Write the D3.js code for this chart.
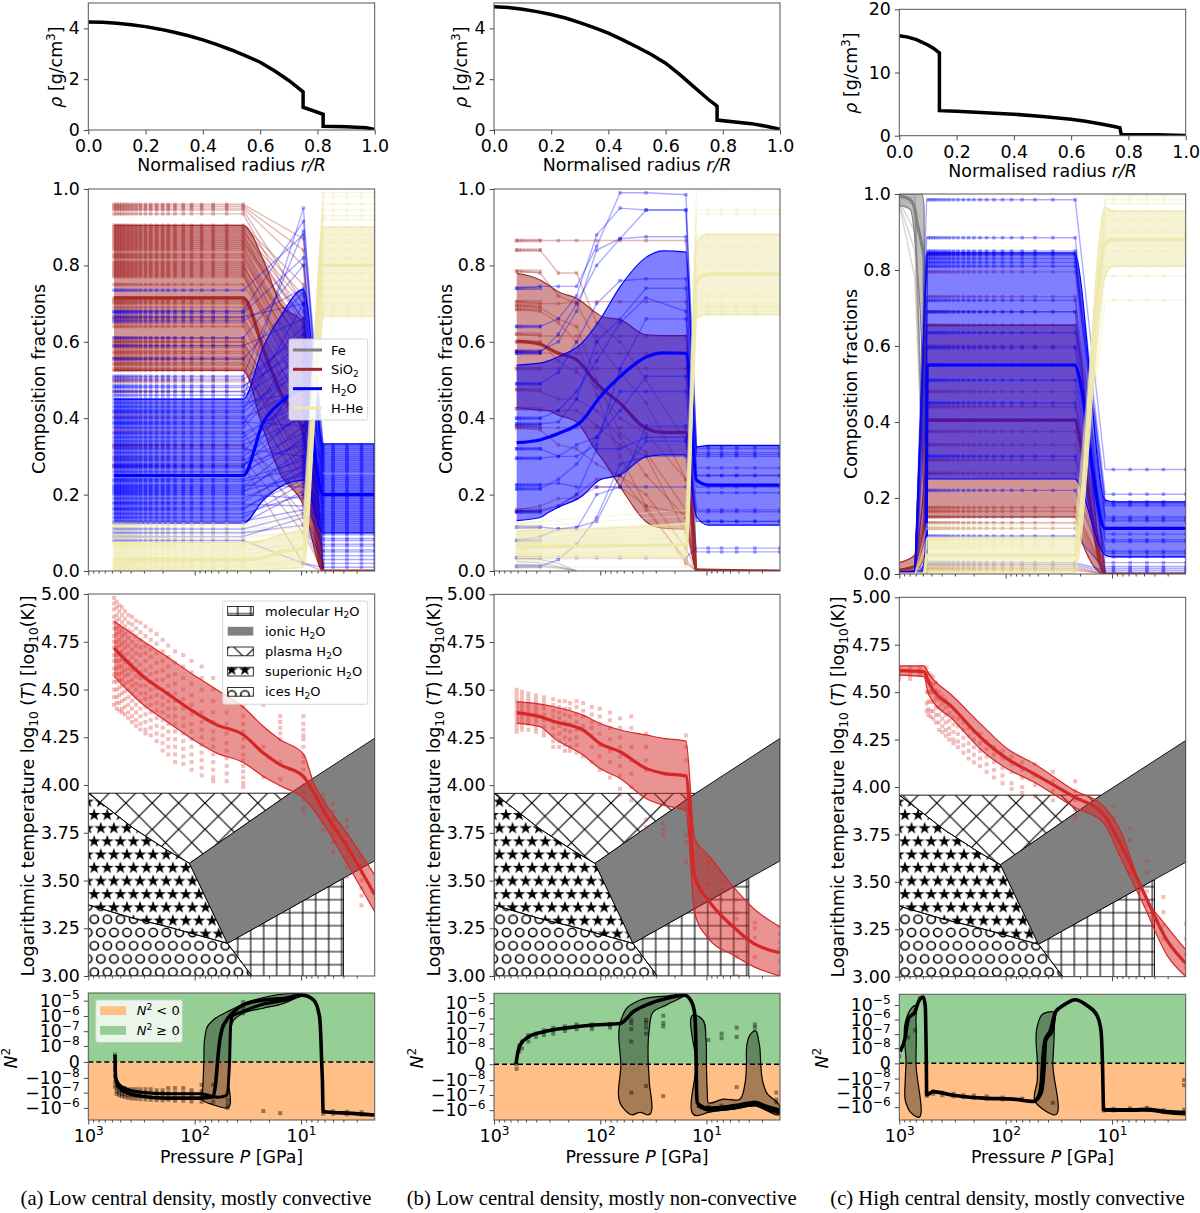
<!DOCTYPE html>
<html>
<head>
<meta charset="utf-8">
<script src="https://cdn.jsdelivr.net/npm/d3@7"></script>
<style>
    body { margin: 0; background: #fff; }
    text { font-family: "DejaVu Sans", sans-serif; fill: #000; }
</style>
</head>
<body>
<svg id="chart" width="1200" height="1213"></svg>
<script>
// ---- density profiles (row 1) ----
var rhoRadiusA = [0, .05, .1, .15, .2, .25, .3, .35, .4, .45, .5, .55, .6, .65, .7, .75, .75, .82, .82, .9, .97, 1];
var rhoValueA = [4.25, 4.24, 4.2, 4.14, 4.07, 3.97, 3.85, 3.71, 3.55, 3.36, 3.15, 2.92, 2.67, 2.33, 1.95, 1.5, .9, .62, .15, .13, .09, .02];
var rhoRadiusB = [0, .05, .1, .15, .2, .25, .3, .35, .4, .45, .5, .55, .6, .65, .7, .75, .78, .78, .9, .96, 1];
var rhoValueB = [4.85, 4.82, 4.75, 4.66, 4.55, 4.41, 4.23, 4.03, 3.81, 3.55, 3.27, 2.97, 2.63, 2.18, 1.69, 1.2, .94, .39, .25, .13, .03];
var rhoRadiusC = [0, .03, .06, .1, .12, .14, .14, .2, .3, .4, .5, .6, .65, .7, .75, .77, .775, .9, 1];
var rhoValueC = [15.8, 15.6, 15.2, 14.35, 13.8, 13.1, 3.96, 3.85, 3.65, 3.4, 3.05, 2.6, 2.3, 1.9, 1.45, 1.27, .2, .15, .05];

// ---- composition, column a ----
var colsPlateauA = [573, 541, 511, 482, 452, 420, 388, 356, 324, 290, 259, 228, 200, 177, 153, 128, 107, 86, 67, 50, 35];
var colsRightA = [6.2, 5, 3.7, 2.7, 2.03];
var lineNodesA = [573, 35, 9.5, 6.2, 2.03];
var siLevelA = [.96, .955, .95, .945, .935, .905, .895, .885, .88, .87, .86, .85, .84, .83, .81, .805, .795, .785, .775, .75, .715, .71, .70, .68, .665, .66, .65, .61, .60, .585, .575, .555, .53, .525, .505, .495, .47, .405, .365, .33, .325, .295, .275, .90, .89, .875, .865, .855, .845, .825, .82, .80, .79, .78, .77, .705, .69, .64, .60, .59, .57, .56, .545, .54];
var siEndA = [.87, .84, .80, .70, .65, .75, .64, .68, .60, .62, .66, .58, .55, .52, .60, .50, .56, .48, .45, .52, .42, .47, .40, .44, .38, .36, .34, .42, .33, .30, .32, .28, .26, .30, .24, .20, .22, .18, .12, .20, .15, .10, .02, .72, .70, .66, .61, .63, .57, .59, .54, .53, .49, .46, .51, .43, .39, .35, .31, .37, .29, .27, .25, .23];
var h2oLevelA = [.735, .68, .675, .665, .655, .61, .59, .555, .51, .50, .485, .48, .47, .46, .45, .43, .42, .40, .375, .36, .35, .33, .31, .29, .275, .26, .25, .215, .205, .19, .18, .165, .15, .14, .125, .11, .10, .09, .08, .44, .415, .39, .385, .34, .32, .30, .28, .27, .24, .235, .225, .22, .21, .2, .175, .16, .13];
var h2oEndA = [.88, .915, .82, .70, .74, .80, .66, .73, .89, .62, .58, .64, .60, .56, .95, .52, .70, .48, .55, .44, .46, .40, .50, .36, .42, .34, .38, .30, .32, .26, .28, .24, .20, .23, .21, .15, .12, .14, .02, .47, .55, .38, .60, .43, .30, .41, .33, .52, .29, .27, .22, .35, .25, .19, .17, .26, .16];
var h2oRightA = [.33, .325, .32, .31, .30, .295, .29, .28, .27, .26, .25, .24, .23, .22, .21, .20, .195, .19, .18, .17, .16, .15, .14, .13, .125, .12, .11, .10, .095, .085, .08, .07, .065, .055, .05, .04, .03, .02, .01, .315, .305, .285, .275, .265, .245, .235, .225, .215, .205, .185, .175, .165, .155, .145, .135, .115, .105];
var hheLevelA = [.125, .12, .115, .105, .095, .09, .085, .075, .07, .065, .055, .045, .035, .03, .025, .02, .015, .01, .005, .002];
var hheEndA = [.15, .14, .11, .13, .12, .10, .105, .09, .08, .11, .07, .06, .09, .05, .04, .06, .03, .02, .03, .01];
var hheRightA = [.99, .98, .96, .945, .93, .92, .90, .88, .86, .84, .82, .80, .78, .76, .74, .72, .70, .69, .68, .665];
var bandPA = [573, 35, 22.6, 15.7, 9.5, 6.2, 2.03];
var siHiA = [.905, .905, .814, .70, .648, 0, 0];
var siMedA = [.715, .715, .58, .47, .36, 0, 0];
var siLoA = [.525, .525, .37, .255, .172, 0, 0];
var h2oHiA = [.45, .45, .588, .665, .737, .333, .333];
var h2oMedA = [.25, .25, .39, .44, .474, .2, .2];
var h2oLoA = [.125, .125, .186, .22, .238, .1, .1];
var hheHiA = [.075, .075, .08, .095, .107, .90, .90];
var hheMedA = [.03, .03, .035, .05, .06, .80, .80];
var hheLoA = [0, 0, 0, .005, .01, .668, .668];

// ---- composition, column b ----
var colsPlateauB = [612, 578, 546, 511, 475, 439, 403, 369];
var colsRightB = [9.6, 7.2, 5.2, 3.5, 2.04];
var lineNodesB = [612, 369, 248, 167, 108, 65, 37, 15.6];
var siLinesB = [
    [.865, .865, .865, .865, .865, .865, .865, .865],
    [.84, .84, .78, .78, .65, .60, .50, .34],
    [.785, .78, .72, .70, .60, .52, .44, .24],
    [.705, .70, .70, .705, .705, .705, .705, .705],
    [.695, .69, .66, .64, .50, .36, .31, .16],
    [.685, .68, .65, .60, .46, .30, .17, .15],
    [.62, .615, .615, .615, .615, .615, .615, .615],
    [.60, .60, .55, .52, .48, .40, .36, .24],
    [.575, .57, .57, .57, .57, .57, .57, .57],
    [.53, .53, .53, .53, .53, .53, .53, .53],
    [.475, .47, .45, .45, .42, .35, .25, .14],
    [.425, .42, .42, .42, .38, .33, .30, .10],
    [.38, .375, .375, .375, .375, .375, .375, .375],
    [.375, .37, .33, .32, .28, .25, .20, .06],
    [.16, .17, .19, .19, .22, .22, .17, .02],
    [.155, .16, .17, .20, .24, .25, .16, .03]
];
var h2oLinesB = [
    [.74, .745, .745, .745, .85, .99, .99, .985],
    [.64, .64, .66, .72, .88, .95, .945, .945],
    [.575, .575, .60, .68, .84, .87, .945, .945],
    [.57, .57, .62, .70, .80, .87, .875, .875],
    [.49, .49, .52, .60, .70, .76, .765, .765],
    [.40, .40, .42, .47, .55, .65, .715, .68],
    [.385, .385, .39, .45, .60, .66, .74, .74],
    [.32, .32, .30, .30, .33, .53, .66, .66],
    [.295, .295, .30, .33, .35, .42, .51, .51],
    [.225, .225, .23, .22, .22, .22, .22, .22],
    [.215, .215, .24, .28, .35, .47, .47, .47],
    [.155, .155, .17, .20, .32, .32, .35, .35],
    [.115, .115, .11, .115, .13, .25, .34, .34],
    [.08, .09, .11, .11, .20, .22, .38, .38],
    [.035, .035, .035, .035, .035, .035, .035, .035],
    [.012, .012, .03, .07, .14, .28, .30, .30]
];
var h2oRightB = [.325, .32, .31, .305, .30, .27, .25, .25, .22, .205, .16, .155, .13, .13, .06, .05];
var hheLevelB = [.125, .115, .105, .095, .085, .075, .07, .065, .055, .045, .04, .03, .012];
var hheEndB = [.16, .145, .125, .12, .11, .10, .09, .085, .075, .05, .04, .03, .01];
var hheRightB = [1, .945, .935, .88, .85, .80, .775, .72, .70, .695, .69, .68, .67];
var feLinesB = [[.035, .03, .02, 0], [.025, .022, .012, 0], [.018, .015, .01, 0], [.012, .011, .008, 0]];
var feNodesB = [612, 369, 248, 167];
var siBandPB = [612, 369, 308, 248, 167, 108, 94, 65, 37, 25.5, 15.6, 12.4, 2.04];
var siHiB = [.779, .762, .749, .731, .714, .675, .665, .658, .618, .616, .616, 0, 0];
var siMedB = [.602, .594, .583, .57, .553, .491, .475, .439, .373, .363, .363, .003, 0];
var siLoB = [.428, .421, .42, .408, .39, .312, .29, .221, .129, .112, .109, 0, 0];
var h2oBandPB = [612, 369, 308, 248, 150, 101, 65, 37, 25.5, 15.6, 12.4, 9.6, 2.04];
var h2oHiB = [.539, .544, .55, .561, .596, .657, .744, .821, .838, .835, .325, .329, .329];
var h2oMedB = [.336, .343, .35, .36, .392, .455, .509, .56, .571, .57, .238, .225, .225];
var h2oLoB = [.132, .14, .153, .167, .195, .238, .251, .299, .304, .304, .142, .12, .12];
var hheBandPB = [612, 15.6, 12.4, 9.6, 2.04];
var hheHiB = [.105, .125, .862, .882, .882];
var hheMedB = [.064, .068, .757, .777, .777];
var hheLoB = [.035, .035, .661, .672, .672];

// ---- composition, column c ----
var colsPlateauC = [533, 507, 479, 452, 424, 394, 366, 339, 310, 281, 250, 223, 199, 174, 151, 129, 107, 88, 70, 53, 36, 22.2];
var colsRightC = [9.7, 6.76, 4.7, 3.29, 2.02];
var lineNodesC = [1000, 713, 553, 22.2, 11.6, 2.02];
var feStartC = [1, .995, .99, .985, .98, .975, .97];
var feMidC = [1, .99, .97, .95, .9, .85, .78];
var feNodesC = [1000, 713, 553];
var siLevelC = [.84, .795, .73, .69, .655, .60, .48, .44, .405, .375, .34, .30, .265, .175, .165, .15, .135, .12, .02, .015, .01];
var h2oLevelC = [.985, .885, .85, .845, .84, .83, .82, .81, .72, .69, .635, .595, .55, .51, .45, .31, .22, .10, .03, .025];
var h2oRightC = [.275, .21, .19, .185, .18, .15, .145, .14, .12, .105, .09, .085, .06, .055, .045, .03, .02, .015, .01, .005];
var hheLevelC = [.13, .12, .095, .09, .08, .07, .05, .03, .02, .01, .005];
var hheRightC = [.995, .985, .975, .955, .93, .90, .88, .85, .81, .785, .72];
var feBandPC = [1000, 794, 713, 687, 617, 586, 553];
var feHiC = [1, 1, 1, 1, 1, .97, 0];
var feMedC = [.995, .985, .96, .93, .87, .83, 0];
var feLoC = [.97, .96, .88, .82, .6, .3, 0];
var siBandPC = [1000, 713, 640, 574, 553, 22.2, 20, 11.6, 2.02];
var siHiC = [.03, .05, .12, .3, .655, .655, .58, 0, 0];
var siMedC = [.01, .02, .05, .15, .405, .405, .35, 0, 0];
var siLoC = [.005, .01, .02, .05, .15, .15, .1, 0, 0];
var h2oBandPC = [1000, 640, 586, 561, 546, 22.7, 11.6, 9.7, 2.02];
var h2oHiC = [.005, .01, .03, .10, .845, .845, .195, .19, .19];
var h2oMedC = [.003, .005, .015, .05, .55, .55, .12, .12, .12];
var h2oLoC = [0, 0, .005, .02, .25, .25, .05, .045, .045];
var hheBandPC = [1000, 586, 546, 22.7, 11.6, 9.7, 2.02];
var hheHiC = [0, 0, .095, .095, .965, .955, .955];
var hheMedC = [0, 0, .05, .05, .87, .88, .88];
var hheLoC = [0, 0, 0, 0, .785, .81, .81];

// ---- temperature bands (row 3) ----
var tempPA = [573, 304, 183, 103, 62, 35, 22.6, 15.7, 9.5, 7.6, 6.2, 3.7, 2.03];
var tempHiA = [4.857, 4.752, 4.673, 4.577, 4.499, 4.408, 4.306, 4.237, 4.163, 4.01, 3.922, 3.747, 3.529];
var tempMedA = [4.717, 4.568, 4.481, 4.385, 4.315, 4.263, 4.167, 4.106, 4.045, 3.96, 3.87, 3.678, 3.425];
var tempLoA = [4.569, 4.42, 4.333, 4.237, 4.167, 4.118, 4.045, 3.996, 3.931, 3.87, 3.8, 3.59, 3.337];
var tempPB = [612, 369, 271, 145, 101, 65, 37, 25.5, 15.6, 12.9, 9.6, 5.6, 3.6, 2.04];
var tempHiB = [4.438, 4.425, 4.411, 4.367, 4.324, 4.289, 4.263, 4.245, 4.231, 3.72, 3.634, 3.468, 3.354, 3.258];
var tempMedB = [4.38, 4.359, 4.333, 4.289, 4.219, 4.175, 4.088, 4.062, 4.048, 3.52, 3.398, 3.258, 3.171, 3.122];
var tempLoB = [4.324, 4.307, 4.245, 4.158, 4.088, 4.035, 3.93, 3.895, 3.866, 3.328, 3.197, 3.11, 3.049, 3];
var tempPC = [1000, 586, 533, 310, 162, 98, 55, 23, 11.9, 8.4, 5.07, 3.05, 2.02];
var tempHiC = [4.638, 4.638, 4.6, 4.476, 4.318, 4.204, 4.125, 3.984, 3.896, 3.773, 3.44, 3.264, 3.141];
var tempMedC = [4.613, 4.608, 4.555, 4.415, 4.248, 4.151, 4.072, 3.949, 3.852, 3.703, 3.448, 3.193, 3.07];
var tempLoC = [4.59, 4.582, 4.49, 4.353, 4.186, 4.098, 4.028, 3.896, 3.808, 3.633, 3.38, 3.114, 3];

// ---- temperature scatter, one value list per pressure column ----
var tempColPA = [573, 541, 511, 482, 452, 420, 388, 356, 324, 290, 259, 228, 200, 177, 153, 128, 107, 86, 67, 50, 35, 22.6, 15.7, 9.5, 6.2, 5, 3.7, 2.7];
var tempColTA = [
    [4.98, 4.95, 4.92, 4.88, 4.85, 4.82, 4.78, 4.75, 4.72, 4.68, 4.65, 4.61, 4.58, 4.54, 4.5, 4.46, 4.42],
    [4.96, 4.93, 4.89, 4.86, 4.82, 4.79, 4.75, 4.72, 4.68, 4.65, 4.61, 4.58, 4.54, 4.5, 4.46, 4.43, 4.4],
    [4.94, 4.91, 4.87, 4.83, 4.8, 4.76, 4.73, 4.69, 4.65, 4.62, 4.58, 4.55, 4.51, 4.47, 4.43, 4.39],
    [4.93, 4.89, 4.85, 4.81, 4.78, 4.74, 4.7, 4.66, 4.62, 4.59, 4.55, 4.52, 4.48, 4.44, 4.4, 4.38],
    [4.91, 4.87, 4.83, 4.79, 4.75, 4.72, 4.68, 4.64, 4.6, 4.57, 4.53, 4.49, 4.45, 4.41, 4.37],
    [4.89, 4.85, 4.81, 4.77, 4.73, 4.69, 4.65, 4.61, 4.58, 4.54, 4.5, 4.46, 4.42, 4.38, 4.35],
    [4.88, 4.84, 4.8, 4.75, 4.71, 4.67, 4.63, 4.6, 4.55, 4.52, 4.48, 4.44, 4.4, 4.36, 4.33],
    [4.86, 4.82, 4.78, 4.73, 4.69, 4.65, 4.61, 4.57, 4.53, 4.5, 4.46, 4.42, 4.38, 4.34, 4.31],
    [4.85, 4.8, 4.76, 4.72, 4.68, 4.63, 4.59, 4.56, 4.52, 4.48, 4.44, 4.4, 4.36, 4.32, 4.29],
    [4.83, 4.78, 4.73, 4.69, 4.65, 4.6, 4.56, 4.52, 4.48, 4.45, 4.41, 4.37, 4.33, 4.29, 4.27],
    [4.81, 4.76, 4.71, 4.67, 4.62, 4.58, 4.54, 4.5, 4.46, 4.42, 4.38, 4.34, 4.3, 4.26],
    [4.79, 4.74, 4.69, 4.64, 4.59, 4.55, 4.51, 4.47, 4.43, 4.39, 4.35, 4.31, 4.27, 4.23],
    [4.76, 4.7, 4.65, 4.6, 4.55, 4.5, 4.46, 4.42, 4.38, 4.34, 4.3, 4.26, 4.22, 4.18],
    [4.73, 4.67, 4.62, 4.57, 4.52, 4.48, 4.44, 4.4, 4.36, 4.32, 4.28, 4.24, 4.2, 4.16],
    [4.7, 4.64, 4.58, 4.53, 4.48, 4.44, 4.4, 4.36, 4.32, 4.28, 4.24, 4.2, 4.16, 4.12],
    [4.68, 4.62, 4.56, 4.5, 4.45, 4.4, 4.35, 4.31, 4.27, 4.23, 4.19, 4.15, 4.11],
    [4.65, 4.59, 4.53, 4.47, 4.42, 4.37, 4.32, 4.28, 4.24, 4.2, 4.16, 4.12, 4.08],
    [4.62, 4.56, 4.5, 4.44, 4.38, 4.33, 4.29, 4.25, 4.21, 4.17, 4.13, 4.09, 4.05],
    [4.56, 4.5, 4.44, 4.38, 4.33, 4.28, 4.24, 4.2, 4.16, 4.12, 4.08, 4.04, 4.02],
    [4.5, 4.44, 4.38, 4.32, 4.27, 4.22, 4.18, 4.14, 4.1, 4.06, 4.02],
    [4.47, 4.41, 4.36, 4.32, 4.28, 4.24, 4.2, 4.16, 4.13, 4.1, 4.07, 4.04, 4.01, 3.99],
    [4.42, 4.2, 4.04],
    [4.36, 4.33, 4.3, 4.27, 4.24, 4.12, 4.03],
    [4.36, 4.32, 4.29, 4.26, 4.24, 4.2, 4.15, 4.12, 4.08, 4.04, 4, 3.96, 3.92, 3.88, 3.86],
    [3.95, 3.92, 3.88, 3.84, 3.8, 3.76],
    [3.9, 3.86, 3.82, 3.78, 3.74, 3.7, 3.65],
    [3.82, 3.78, 3.74, 3.7, 3.66, 3.62, 3.57, 3.52],
    [3.62, 3.58, 3.54, 3.5, 3.46, 3.42, 3.37]
];
var tempColPB = [612, 546, 475, 403, 339, 277, 243, 215, 193, 167, 145, 120, 101, 81, 65, 51, 37, 25.5, 15.6, 9.6, 7.2, 5.2, 3.5, 2.04];
var tempColTB = [
    [4.5, 4.48, 4.46, 4.44, 4.42, 4.4, 4.38, 4.36, 4.34, 4.32, 4.3, 4.28],
    [4.49, 4.47, 4.45, 4.43, 4.41, 4.39, 4.37, 4.35, 4.33, 4.31, 4.29],
    [4.48, 4.46, 4.44, 4.42, 4.4, 4.38, 4.36, 4.34, 4.32, 4.29],
    [4.47, 4.45, 4.43, 4.41, 4.39, 4.37, 4.35, 4.33, 4.3, 4.28],
    [4.46, 4.44, 4.42, 4.4, 4.37, 4.34, 4.31, 4.28, 4.26],
    [4.45, 4.42, 4.39, 4.36, 4.33, 4.3, 4.26, 4.23, 4.2],
    [4.44, 4.41, 4.38, 4.35, 4.31, 4.27, 4.23, 4.2],
    [4.44, 4.4, 4.37, 4.33, 4.29, 4.25, 4.21, 4.18],
    [4.43, 4.4, 4.36, 4.32, 4.28, 4.24, 4.2, 4.18],
    [4.44, 4.41, 4.37, 4.33, 4.29, 4.25, 4.21, 4.17],
    [4.43, 4.39, 4.36, 4.31, 4.15],
    [4.41, 4.37, 4.33, 4.3, 4.26, 4.2, 4.12],
    [4.4, 4.36, 4.32, 4.27, 4.21, 4.15, 4.08],
    [4.38, 4.34, 4.3, 4.24, 4.18, 4.12, 4.04],
    [4.35, 4.3, 4.25, 4.2, 4.15, 4.1, 4.05, 3.98, 3.95],
    [4.36, 4.3, 4.2, 4.13, 4.06, 3.99, 3.92],
    [4.27, 4.2, 4.13, 4.08, 3.82, 3.78],
    [3.8, 3.77, 3.74],
    [4.26, 4.2, 4.13, 4.05, 3.94, 3.88, 3.74, 3.7, 3.6],
    [3.6, 3.56, 3.48, 3.4, 3.2],
    [3.5, 3.45, 3.4],
    [3.4, 3.33, 3.3, 3.1, 3.0],
    [3.28, 3.25, 3.2, 3.1],
    [3.26, 3.22, 3.18, 3.14, 3.08, 3.02]
];
var tempColPC = [1000, 794, 640, 553, 533, 507, 479, 452, 424, 394, 366, 339, 310, 281, 250, 223, 199, 174, 151, 129, 107, 88, 70, 53, 36, 22.2, 9.7, 6.76, 4.7, 3.29, 2.02];
var tempColTC = [
    [4.63, 4.61, 4.59, 4.57], [4.63, 4.61, 4.59, 4.57], [4.63, 4.61, 4.59], [4.63, 4.6, 4.5, 4.44, 4.4],
    [4.6, 4.56, 4.5, 4.45, 4.41, 4.38], [4.59, 4.55, 4.5, 4.45, 4.4, 4.37], [4.58, 4.54, 4.5, 4.45, 4.4, 4.36],
    [4.55, 4.51, 4.47, 4.42, 4.38, 4.34], [4.5, 4.46, 4.42, 4.38, 4.34, 4.3], [4.48, 4.44, 4.4, 4.36, 4.32, 4.29],
    [4.46, 4.42, 4.38, 4.34, 4.3, 4.27], [4.43, 4.39, 4.35, 4.31, 4.28, 4.25], [4.41, 4.37, 4.33, 4.29, 4.25, 4.23],
    [4.36, 4.32, 4.28, 4.24, 4.21], [4.34, 4.3, 4.26, 4.22, 4.18], [4.31, 4.27, 4.23, 4.19, 4.15],
    [4.29, 4.25, 4.21, 4.17, 4.13], [4.28, 4.23, 4.19, 4.15, 4.11], [4.24, 4.2, 4.16, 4.12, 4.08],
    [4.21, 4.17, 4.13, 4.09, 4.05], [4.19, 4.15, 4.1, 4.06, 4.02], [4.16, 4.12, 4.08, 4.02, 3.99],
    [4.13, 4.09, 4.05, 4.0, 3.97], [4.12, 4.06, 4.01, 3.95], [4.08, 4.03, 3.98, 3.93],
    [4.03, 3.98, 3.93, 3.88, 3.84], [3.9, 3.84, 3.78], [3.78, 3.72, 3.55], [3.61, 3.55, 3.45, 3.38],
    [3.42, 3.34, 3.27, 3.2], [3.28, 3.2, 3.12, 3.05]
];

// ---- water phase regions, [pressure GPa, log10 T] ----
var phasePlasma = [[1000, 3.957], [12.65, 3.957], [112, 3.59], [183, 3.66], [377, 3.774], [625, 3.87]];
var phaseSuperionic = [[1000, 3.957], [625, 3.87], [377, 3.774], [183, 3.66], [112, 3.59], [49.2, 3.171], [183, 3.259], [377, 3.302], [1000, 3.372]];
var phaseIces = [[1000, 3.372], [377, 3.302], [183, 3.259], [49.2, 3.171], [29, 3], [1000, 3]];
var phaseMolecular = [[49.2, 3.171], [3.99, 3.512], [3.99, 3], [29, 3]];
var phaseIonic = [[112, 3.59], [12.65, 3.957], [2.03, 4.245], [2.03, 3.603], [3.99, 3.512], [49.2, 3.171]];

// ---- buoyancy frequency, medians ----
var nsqPA = [561, 555, 521, 435, 304, 183, 89, 67, 63, 61, 58.5, 55.6, 50, 43, 35, 22.6, 14.6, 9.8, 7.6, 6.7, 6.5, 6.4, 6.3, 6.2, 5, 3.7, 2.03];
var nsqMedA = [1.9e-9, -8e-9, -3.9e-8, -1e-7, -1.8e-7, -2.3e-7, -2.3e-7, -1.8e-7, -1.4e-8, 0, 1.6e-8, 1.2e-7, 5.4e-7, 1.9e-6, 5.2e-6, 1.1e-5, 1.4e-5, 2.3e-5, 1.1e-5, 9e-7, 2.6e-8, 0, -1.4e-8, -1.7e-6, -2e-6, -2.2e-6, -2.9e-6];
var nsqExtraPA = [555, 521, 435, 304, 183, 89, 60, 50, 47, 46, 44, 35, 22.6, 14.6, 9.8];
var nsqExtraVA = [-1e-8, -2.5e-8, -6e-8, -1e-7, -1.2e-7, -1.2e-7, -2e-7, -1.5e-7, 0, 2e-7, 1e-6, 2e-6, 6e-6, 1e-5, 2.3e-5];
var nsqPB = [621, 603, 569, 475, 344, 207, 125, 65, 49, 34, 24, 16, 13.8, 12.9, 12.6, 12.5, 12.4, 12.2, 9.6, 5.6, 3.5, 2.7, 2.04];
var nsqMedB = [0, 3e-9, 1.7e-8, 6e-8, 1.3e-7, 2.4e-7, 3.6e-7, 4.6e-7, 2.7e-6, 9.5e-6, 2e-5, 3.3e-5, 1.2e-5, 2.1e-6, 3.8e-8, 0, -4.6e-8, -3.4e-7, -7.4e-7, -5.2e-7, -3.2e-7, -5.8e-7, -1e-6];
var nsqExtraPB = [12.2, 9.6, 5.6, 3.5, 2.7, 2.04];
var nsqExtraVB = [-5e-7, -1e-6, -7.5e-7, -4.5e-7, -9e-7, -1.5e-6];
var nsqPC = [985, 885, 822, 713, 662, 594, 569, 561, 557, 553, 479, 333, 162, 85, 55, 49, 46, 45, 42.7, 38, 34, 28.6, 22.2, 17.3, 13.9, 12.7, 12.3, 12, 6.3, 4.7, 3.05, 2.02];
var nsqMedC = [5.3e-9, 4.9e-8, 1.2e-6, 3.3e-6, 1.6e-5, 3.5e-5, 7.2e-6, 3.8e-8, 0, -1.4e-7, -8.5e-8, -1.4e-7, -2.4e-7, -2.8e-7, -4e-7, -1.8e-7, -1.3e-8, 0, 3.8e-8, 1.8e-7, 3.3e-6, 9.5e-6, 2.3e-5, 9.5e-6, 2e-6, 1.8e-7, 0, -1.5e-6, -1.5e-6, -1.4e-6, -2e-6, -2.3e-6];
var nsqExtraPC = [12, 6.3, 4.7, 3.05, 2.02];
var nsqExtraVC = [-1.6e-6, -1.7e-6, -1.6e-6, -2.4e-6, -3e-6];
var nsqExtra2PC = [53, 46, 44, 43, 42, 36, 35, 34];
var nsqExtra2VC = [-4e-7, -1e-7, -1e-8, 0, 3e-8, 2e-7, 1e-6, 3.3e-6];

// ---- buoyancy frequency, spread outlines ----
var nsqBandPA = [84, 82, 80, 76, 67, 46, 35, 21, 9.8, 14.6, 22.6, 35, 43, 46, 47, 48, 49, 67, 86];
var nsqBandVA = [-4.4e-8, 0, 4.4e-8, 2e-7, 5.4e-7, 2.4e-6, 6e-6, 1.8e-5, 2.6e-5, 6.7e-6, 3.2e-6, 1.5e-6, 5.4e-7, 2.6e-8, 0, -1.4e-8, -1e-6, -6.3e-7, -2.7e-7];
var nsqBand1PB = [64, 60.7, 50.7, 42, 36, 34.6, 35.3, 34.6, 31.7, 24, 16, 24, 42, 56.5, 63];
var nsqBand1VB = [0, -7.4e-7, -2e-6, -1.4e-6, -2e-6, -1e-8, 0, 1.7e-7, 2.7e-6, 7.4e-6, 3.6e-5, 2.9e-5, 1.6e-5, 4.5e-6, 1e-6];
var nsqBand2PB = [12.5, 11.1, 10.1, 10, 9.8, 9.6, 7, 4.85, 4.33, 4.2, 4.14, 3.9, 3.5, 3.19, 3.08, 2.97, 2.72, 2.04, 2.04, 3.5, 5.6, 9.6, 12.2, 12.5];
var nsqBand2VB = [1.6e-6, 1e-6, 3.8e-8, 0, -7e-8, -3.2e-7, -1.9e-7, -1.9e-7, -1.6e-8, 0, 2.2e-8, 8e-8, 1.6e-7, 2.2e-8, 0, -1e-8, -7e-8, -5.8e-7, -1.6e-6, -5.2e-7, -8.5e-7, -1.4e-6, -2.3e-6, 0];
var nsqBand1PC = [865, 871, 794, 713, 697, 697, 697, 794, 865, 879];
var nsqBand1VC = [0, 8e-7, 4.4e-6, 9.5e-6, 8e-7, 0, -4.4e-6, -2e-6, -5.4e-7, -1.3e-8];
var nsqBand2PC = [50.4, 49.7, 46, 35.6, 35, 36, 36, 44, 53, 50.4];
var nsqBand2VC = [0, 5.4e-7, 2e-6, 3.3e-6, 2.4e-7, 0, -3.3e-6, -1.5e-6, -4e-7, -1.3e-8];

// ---- buoyancy frequency, scatter columns ----
var nsqColPA = [561, 541, 511, 482, 452, 420, 388, 356, 324, 290, 259, 228, 200, 177, 153, 128, 107, 86, 67, 49, 35, 22.6, 15.7, 9.5, 6.2, 5, 3.7, 2.7];
var nsqColVA = [
    [2e-9, -2e-9, -8e-9, -2e-8, -4e-8], [-3e-8, -5e-8, -8e-8, -1.2e-7], [-4e-8, -7e-8, -1e-7, -1.5e-7], [-5e-8, -8e-8, -1.2e-7, -1.7e-7],
    [-5e-8, -9e-8, -1.3e-7, -1.9e-7], [-6e-8, -1e-7, -1.5e-7, -2.2e-7], [-6e-8, -1e-7, -1.5e-7, -2.4e-7], [-6e-8, -1e-7, -1.6e-7, -2.5e-7],
    [-6e-8, -1e-7, -1.6e-7, -2.7e-7], [-6e-8, -1e-7, -1.7e-7, -2.8e-7], [-6e-8, -1e-7, -1.7e-7, -3e-7], [-7e-8, -1.1e-7, -1.8e-7, -3.1e-7],
    [-7e-8, -1.1e-7, -1.8e-7, -3.2e-7], [-5e-8, -1e-7, -1.7e-7, -3e-7],
    [-5e-8, -1e-7, -2e-7, -3.4e-7], [-5e-8, -1e-7, -2e-7, -3.4e-7], [-7e-8, -1.2e-7, -2e-7, -3.8e-7], [-3e-8, -8e-8, -2e-7, -4e-7],
    [-3e-8, -2e-7, -4e-7], [-1e-7, -3e-7, -6e-7, -1e-6], [8e-6, 5e-6, 3e-6, 1.5e-6], [-1.6e-6], [-2.2e-6], [2.5e-5], [-1.7e-6, -2.4e-6], [-1.7e-6, -2.4e-6], [-1.8e-6, -2.6e-6], [-1.9e-6, -2.8e-6]
];
var nsqColPB = [612, 578, 546, 475, 403, 339, 277, 215, 167, 120, 81, 51, 37, 25.5, 9.6, 7.2, 5.2, 3.5, 2.2];
var nsqColVB = [
    [0, -1e-9], [6e-9, 1.5e-8], [1e-8, 3e-8], [3e-8, 6e-8, 8e-8], [6e-8, 1e-7], [8e-8, 1.3e-7, 1.7e-7], [1e-7, 1.7e-7, 2.4e-7], [1.5e-7, 2.2e-7, 3e-7],
    [2e-7, 3e-7, 4e-7], [2e-7, 3e-7, 4e-7], [2.5e-7, 3.6e-7, 4.4e-7], [8e-7, 5e-7, 2e-7, 3e-8, -7e-8], [8e-7, 5e-7, 2.5e-7, 1e-7, -2.5e-8], [1.5e-6, 5e-7, 3e-7, -1.2e-7],
    [3.8e-8, -6e-7, -9e-7], [1e-7, 5e-8, -5e-7, -8e-7], [2.5e-7, 6e-8, -3e-8, -5e-7], [4e-7, 2.5e-7, -3e-7], [-7e-8, -2e-7, -3e-7]
];
var nsqColPC = [1000, 822, 713, 640, 553, 479, 394, 310, 250, 199, 151, 107, 70, 36, 12, 9.7, 6.76, 4.7, 3.29, 2.1];
var nsqColVC = [
    [2e-9, 8e-9], [6e-8, 1e-6], [1.8e-7, 3e-6], [3e-5], [-1e-7, -1.7e-7], [-8e-8, -1.2e-7], [-1e-7, -1.5e-7], [-1.2e-7, -1.8e-7], [-1.5e-7, -2e-7],
    [-1.6e-7, -2.3e-7], [-1.8e-7, -2.6e-7], [-2.2e-7, -2.9e-7], [-2.6e-7, -3.2e-7], [-5e-7], [-1.3e-6, -1.7e-6], [-1.3e-6, -1.7e-6], [-1.2e-6, -1.6e-6], [-1.1e-6, -1.6e-6], [-1.6e-6, -2.2e-6], [-1.3e-8, -3e-8, -1.5e-6]
];

// ---- ticks and text ----
var pressureMajor = [1000, 100, 10];
var pressureMinor = [900, 800, 700, 600, 500, 400, 300, 200, 90, 80, 70, 60, 50, 40, 30, 20, 9, 8, 7, 6, 5, 4, 3];
var radiusTicks = [0, .2, .4, .6, .8, 1];
var compTicks = [0, .2, .4, .6, .8, 1];
var tempTicks = [3, 3.25, 3.5, 3.75, 4, 4.25, 4.5, 4.75, 5];
var nsqTicks = [1e-5, 1e-6, 1e-7, 1e-8, 0, -1e-8, -1e-7, -1e-6];
var captions = ["(a) Low central density, mostly convective", "(b) Low central density, mostly non-convective", "(c) High central density, mostly convective"];

// ---- layout in pixels, [col a, col b, col c] ----
var plotX = [[88.3, 374.7], [494, 780], [899.3, 1185.7]];
var rhoY = [[3, 130], [3, 130], [9.3, 135.7]];
var compY = [[189, 571], [189, 571], [194, 574]];
var tempY = [[594, 976], [594.3, 976], [597.3, 976.7]];
var nsqY = [[993, 1120], [993.3, 1120], [994.3, 1120]];
var nsqDomain = [[-6.2e-6, 3.16e-5], [-4.4e-6, 4.4e-5], [-7.6e-6, 5.4e-5]];
var rhoMax = [5, 5, 20];
var rhoTicks = [[0, 2, 4], [0, 2, 4], [0, 10, 20]];
var labelX = [[62, 45, 34, 17], [467, 452, 440, 423], [857, 857, 844, 828]]; // rho, comp, temp, nsq ylabel baselines
var rhoLabelBase = [171, 171, 176.5];
var rhoLabelMid = [67, 67, 73];
var compLabelMid = [379, 379, 384];
var tempLabelMid = [786, 786, 787];
var captionMid = [196, 601.7, 1007.5];
// hatch tile anchors per column: stars, circles, grid, cross
var starAnchor = [[107.3, 815], [506, 815], [905, 815]];
var ringAnchor = [[94.3, 919.3], [500, 919.3], [905, 919.3]];
var gridAnchor = [[250.7, 912.7], [642.7, 912.7], [1048.3, 912.7]];
var crossAnchor = [[205, 803], [611, 803], [1016, 803]];

var COL_FE = "gray", COL_SI = "#a52a2a", COL_H2O = "#0000ff", COL_HHE = "#eee8aa", COL_T = "#d62728";
var FS = 17.4;

var svg = d3.select("#chart");
var defs = svg.append("defs");

function richText(sel, parts, fs) {
    var shift = 0;
    parts.forEach(function (p) {
        var t = sel.append("tspan").text(p.t);
        var target = p.sup ? -fs * .42 : (p.sub ? fs * .22 : 0);
        if (target !== shift) t.attr("dy", target - shift);
        shift = target;
        if (p.i) t.style("font-style", "italic");
        if (p.sup || p.sub) t.style("font-size", (fs * .7) + "px");
    });
}

function hatchDefs(i) {
    var c = crossAnchor[i], g = gridAnchor[i], s = starAnchor[i], r = ringAnchor[i];
    var px = defs.append("pattern").attr("id", "hatch-x" + i).attr("patternUnits", "userSpaceOnUse")
        .attr("width", 26.4).attr("height", 26.4).attr("patternTransform", "translate(" + c[0] + "," + c[1] + ")");
    px.append("path").attr("d", "M0,0L26.4,26.4M26.4,0L0,26.4").attr("stroke", "#000").attr("stroke-width", 1.2).attr("fill", "none");

    var pg = defs.append("pattern").attr("id", "hatch-g" + i).attr("patternUnits", "userSpaceOnUse")
        .attr("width", 13).attr("height", 13).attr("patternTransform", "translate(" + g[0] + "," + g[1] + ")");
    pg.append("path").attr("d", "M0,0V13M0,0H13M13,0V13M0,13H13").attr("stroke", "#000").attr("stroke-width", 1.1).attr("fill", "none");

    var starPath = d3.symbol().type(d3.symbolStar).size(50)();
    var ps = defs.append("pattern").attr("id", "hatch-s" + i).attr("patternUnits", "userSpaceOnUse")
        .attr("width", 13.1).attr("height", 26.4).attr("patternTransform", "translate(" + s[0] + "," + s[1] + ")");
    [[0, 0], [13.1, 0], [0, 26.4], [13.1, 26.4], [6.55, 13.2]].forEach(function (o) {
        ps.append("path").attr("d", starPath).attr("transform", "translate(" + o[0] + "," + o[1] + ")").attr("fill", "#000");
    });

    var pr = defs.append("pattern").attr("id", "hatch-r" + i).attr("patternUnits", "userSpaceOnUse")
        .attr("width", 13.1).attr("height", 26.4).attr("patternTransform", "translate(" + r[0] + "," + r[1] + ")");
    [[0, 0], [13.1, 0], [0, 26.4], [13.1, 26.4], [6.55, 13.2]].forEach(function (o) {
        pr.append("circle").attr("cx", o[0]).attr("cy", o[1]).attr("r", 4.2).attr("fill", "none").attr("stroke", "#000").attr("stroke-width", 1.6);
    });
}

function makePanel(id, xr, yr) {
    defs.append("clipPath").attr("id", "clip-" + id).append("rect")
        .attr("x", xr[0]).attr("y", yr[0]).attr("width", xr[1] - xr[0]).attr("height", yr[1] - yr[0]);
    return svg.append("g").attr("clip-path", "url(#clip-" + id + ")");
}

function drawSpine(xr, yr) {
    svg.append("rect").attr("x", xr[0]).attr("y", yr[0]).attr("width", xr[1] - xr[0]).attr("height", yr[1] - yr[0])
        .attr("fill", "none").attr("stroke", "#555").attr("stroke-width", 1);
}

function styleAxis(g) {
    g.attr("font-family", null).attr("font-size", FS);
    g.select(".domain").remove();
    g.selectAll(".tick line").attr("stroke", "#333").attr("stroke-width", .9);
}

// bottom pressure axis, labels only on the last row
function pressureAxis(x, y, labelled) {
    var top = svg.append("g").attr("transform", "translate(0," + y + ")");
    top.call(d3.axisBottom(x).tickValues(pressureMinor).tickSize(2.5).tickFormat(""));
    styleAxis(top);
    var g = svg.append("g").attr("transform", "translate(0," + y + ")");
    g.call(d3.axisBottom(x).tickValues(pressureMajor).tickSize(4.5).tickPadding(6).tickFormat(""));
    styleAxis(g);
    if (labelled) {
        g.selectAll(".tick text").each(function (d) {
            var t = d3.select(this).attr("y", 10).attr("dy", ".71em");
            richText(t, [{t: "10"}, {t: String(Math.round(Math.log10(d))), sup: true}], FS);
        });
    }
}

function yLabel(x, y, parts) {
    var t = svg.append("text").attr("transform", "translate(" + x + "," + y + ") rotate(-90)")
        .attr("text-anchor", "middle").style("font-size", FS + "px");
    richText(t, parts, FS);
}

function xLabel(x, y, parts) {
    var t = svg.append("text").attr("x", x).attr("y", y).attr("text-anchor", "middle").style("font-size", FS + "px");
    richText(t, parts, FS);
}

function drawRho(i, radius, value) {
    var xr = plotX[i], yr = rhoY[i];
    var x = d3.scaleLinear().domain([0, 1]).range(xr);
    var y = d3.scaleLinear().domain([0, rhoMax[i]]).range([yr[1], yr[0]]);
    var g = makePanel("rho" + i, xr, yr);
    var pts = d3.zip(radius, value);
    g.append("path").attr("d", d3.line().x(function (d) { return x(d[0]); }).y(function (d) { return y(d[1]); })(pts))
        .attr("fill", "none").attr("stroke", "#000").attr("stroke-width", 3.5);
    var ax = svg.append("g").attr("transform", "translate(0," + yr[1] + ")");
    ax.call(d3.axisBottom(x).tickValues(radiusTicks).tickSize(4.5).tickPadding(5).tickFormat(d3.format(".1f")));
    styleAxis(ax);
    var ay = svg.append("g").attr("transform", "translate(" + xr[0] + ",0)");
    ay.call(d3.axisLeft(y).tickValues(rhoTicks[i]).tickSize(4.5).tickPadding(4).tickFormat(d3.format("d")));
    styleAxis(ay);
    drawSpine(xr, yr);
    xLabel((xr[0] + xr[1]) / 2, rhoLabelBase[i], [{t: "Normalised radius "}, {t: "r/R", i: true}]);
    yLabel(labelX[i][0], rhoLabelMid[i], [{t: "\u03c1", i: true}, {t: " [g/cm"}, {t: "3", sup: true}, {t: "]"}]);
}

// one species: thin member lines with square markers, then the shaded spread and its median
function drawSpecies(g, x, y, color, rows, marks, bandP, hi, med, lo) {
    var line = d3.line().x(function (d) { return x(d[0]); }).y(function (d) { return y(d[1]); });
    var rowG = g.append("g");
    rows.forEach(function (r) {
        rowG.append("path").attr("d", line(r)).attr("fill", "none").attr("stroke", color)
            .attr("stroke-width", 1.4).attr("stroke-opacity", .33);
    });
    rowG.selectAll("rect").data(marks).enter().append("rect")
        .attr("x", function (d) { return x(d[0]) - 1.75; })
        .attr("y", function (d) { return y(d[1]) - 1.75; })
        .attr("width", 3.5).attr("height", 3.5).attr("fill", color).attr("fill-opacity", .35);
    if (!bandP) return;
    var smooth = d3.line().curve(d3.curveMonotoneX).x(function (d) { return x(d[0]); }).y(function (d) { return y(d[1]); });
    var area = d3.area().curve(d3.curveMonotoneX).x(function (d) { return x(d[0]); })
        .y0(function (d) { return y(d[2]); }).y1(function (d) { return y(d[1]); });
    g.append("path").attr("d", area(d3.zip(bandP, hi, lo))).attr("fill", color).attr("fill-opacity", .5);
    g.append("path").attr("d", smooth(d3.zip(bandP, hi))).attr("fill", "none").attr("stroke", color).attr("stroke-width", 1.2);
    g.append("path").attr("d", smooth(d3.zip(bandP, lo))).attr("fill", "none").attr("stroke", color).attr("stroke-width", 1.2);
    g.append("path").attr("d", smooth(d3.zip(bandP, med))).attr("fill", "none").attr("stroke", color).attr("stroke-width", 3.2);
}

function rowMarks(pts, cols, value) {
    return cols.map(function (p) { return [p, value]; }).concat(pts || []);
}

function compAxesFor(i) {
    var xr = plotX[i], yr = compY[i];
    return {
        x: d3.scaleLog().domain([1000, 2.03]).range(xr),
        y: d3.scaleLinear().domain([0, 1]).range([yr[1], yr[0]]),
        g: makePanel("comp" + i, xr, yr)
    };
}

function finishComp(i, x, y) {
    var xr = plotX[i], yr = compY[i];
    pressureAxis(x, yr[1], false);
    var ay = svg.append("g").attr("transform", "translate(" + xr[0] + ",0)");
    ay.call(d3.axisLeft(y).tickValues(compTicks).tickSize(4.5).tickPadding(4).tickFormat(d3.format(".1f")));
    styleAxis(ay);
    drawSpine(xr, yr);
    yLabel(labelX[i][1], compLabelMid[i], [{t: "Composition fractions"}]);
}

function drawCompA() {
    var a = compAxesFor(0), rows, marks;
    // SiO2
    rows = []; marks = [];
    siLevelA.forEach(function (L, k) {
        rows.push(d3.zip(lineNodesA, [L, L, siEndA[k], 0, 0]));
        marks = marks.concat(rowMarks([[9.5, siEndA[k]]], colsPlateauA, L));
    });
    drawSpecies(a.g, a.x, a.y, COL_SI, rows, marks, bandPA, siHiA, siMedA, siLoA);
    // H2O
    rows = []; marks = [];
    h2oLevelA.forEach(function (L, k) {
        rows.push(d3.zip(lineNodesA, [L, L, h2oEndA[k], h2oRightA[k], h2oRightA[k]]));
        marks = marks.concat(rowMarks([[9.5, h2oEndA[k]]], colsPlateauA, L));
        marks = marks.concat(rowMarks([], colsRightA, h2oRightA[k]));
    });
    drawSpecies(a.g, a.x, a.y, COL_H2O, rows, marks, bandPA, h2oHiA, h2oMedA, h2oLoA);
    // H-He
    rows = []; marks = [];
    hheLevelA.forEach(function (L, k) {
        rows.push(d3.zip(lineNodesA, [L, L, hheEndA[k], hheRightA[k], hheRightA[k]]));
        marks = marks.concat(rowMarks([], colsPlateauA, L));
        marks = marks.concat(rowMarks([], colsRightA, hheRightA[k]));
    });
    drawSpecies(a.g, a.x, a.y, COL_HHE, rows, marks, bandPA, hheHiA, hheMedA, hheLoA);
    finishComp(0, a.x, a.y);
    compLegend();
}

function drawCompB() {
    var a = compAxesFor(1), rows, marks;
    rows = feLinesB.map(function (v) { return d3.zip(feNodesB, v); });
    drawSpecies(a.g, a.x, a.y, COL_FE, rows, []);
    rows = []; marks = [];
    siLinesB.forEach(function (v) {
        rows.push(d3.zip(lineNodesB.concat([12.4, 2.04]), v.concat([0, 0])));
        marks = marks.concat(rowMarks(d3.zip(lineNodesB, v), colsPlateauB, v[0]));
    });
    drawSpecies(a.g, a.x, a.y, COL_SI, rows, marks, siBandPB, siHiB, siMedB, siLoB);
    rows = []; marks = [];
    h2oLinesB.forEach(function (v, k) {
        rows.push(d3.zip(lineNodesB.concat([12.4, 2.04]), v.concat([h2oRightB[k], h2oRightB[k]])));
        marks = marks.concat(rowMarks(d3.zip(lineNodesB, v), colsPlateauB, v[0]));
        marks = marks.concat(rowMarks([], colsRightB, h2oRightB[k]));
    });
    drawSpecies(a.g, a.x, a.y, COL_H2O, rows, marks, h2oBandPB, h2oHiB, h2oMedB, h2oLoB);
    rows = []; marks = [];
    hheLevelB.forEach(function (L, k) {
        rows.push(d3.zip([612, 15.6, 12.4, 2.04], [L, hheEndB[k], hheRightB[k], hheRightB[k]]));
        marks = marks.concat(rowMarks([[15.6, hheEndB[k]]], colsPlateauB, L));
        marks = marks.concat(rowMarks([], colsRightB, hheRightB[k]));
    });
    drawSpecies(a.g, a.x, a.y, COL_HHE, rows, marks, hheBandPB, hheHiB, hheMedB, hheLoB);
    finishComp(1, a.x, a.y);
}

function drawCompC() {
    var a = compAxesFor(2), rows, marks;
    rows = feStartC.map(function (s, k) { return d3.zip(feNodesC, [s, feMidC[k], 0]); });
    drawSpecies(a.g, a.x, a.y, COL_FE, rows, [], feBandPC, feHiC, feMedC, feLoC);
    rows = []; marks = [];
    siLevelC.forEach(function (L) {
        rows.push(d3.zip(lineNodesC, [.01, .02, L, L, 0, 0]));
        marks = marks.concat(rowMarks([], colsPlateauC, L));
    });
    drawSpecies(a.g, a.x, a.y, COL_SI, rows, marks, siBandPC, siHiC, siMedC, siLoC);
    rows = []; marks = [];
    h2oLevelC.forEach(function (L, k) {
        rows.push(d3.zip(lineNodesC, [0, 0, L, L, h2oRightC[k], h2oRightC[k]]));
        marks = marks.concat(rowMarks([], colsPlateauC, L));
        marks = marks.concat(rowMarks([], colsRightC, h2oRightC[k]));
    });
    drawSpecies(a.g, a.x, a.y, COL_H2O, rows, marks, h2oBandPC, h2oHiC, h2oMedC, h2oLoC);
    rows = []; marks = [];
    hheLevelC.forEach(function (L, k) {
        rows.push(d3.zip(lineNodesC, [0, 0, L, L, hheRightC[k], hheRightC[k]]));
        marks = marks.concat(rowMarks([], colsPlateauC, L));
        marks = marks.concat(rowMarks([], colsRightC, hheRightC[k]));
    });
    drawSpecies(a.g, a.x, a.y, COL_HHE, rows, marks, hheBandPC, hheHiC, hheMedC, hheLoC);
    finishComp(2, a.x, a.y);
}

function legendBox(x, y, w, h) {
    svg.append("rect").attr("x", x).attr("y", y).attr("width", w).attr("height", h).attr("rx", 2)
        .attr("fill", "#fff").attr("fill-opacity", .8).attr("stroke", "#ccc").attr("stroke-width", .8);
}

function compLegend() {
    legendBox(289, 339, 78.7, 81);
    var entries = [
        {c: COL_FE, parts: [{t: "Fe"}]},
        {c: COL_SI, parts: [{t: "SiO"}, {t: "2", sub: true}]},
        {c: COL_H2O, parts: [{t: "H"}, {t: "2", sub: true}, {t: "O"}]},
        {c: COL_HHE, parts: [{t: "H-He"}]}
    ];
    entries.forEach(function (e, k) {
        var yy = 350 + k * 19.33;
        svg.append("line").attr("x1", 293).attr("x2", 322).attr("y1", yy).attr("y2", yy).attr("stroke", e.c).attr("stroke-width", 3);
        var t = svg.append("text").attr("x", 331).attr("y", yy + 4.6).style("font-size", "13px");
        richText(t, e.parts, 13);
    });
}

function tempLegend() {
    legendBox(222.7, 601, 145, 103.3);
    var entries = [
        {f: "url(#hatch-g0)", parts: [{t: "molecular H"}, {t: "2", sub: true}, {t: "O"}]},
        {f: "#808080", parts: [{t: "ionic H"}, {t: "2", sub: true}, {t: "O"}]},
        {f: "url(#hatch-x0)", parts: [{t: "plasma H"}, {t: "2", sub: true}, {t: "O"}]},
        {f: "url(#hatch-s0)", parts: [{t: "superionic H"}, {t: "2", sub: true}, {t: "O"}]},
        {f: "url(#hatch-r0)", parts: [{t: "ices H"}, {t: "2", sub: true}, {t: "O"}]}
    ];
    entries.forEach(function (e, k) {
        var yy = 611 + k * 20.2;
        svg.append("rect").attr("x", 227.7).attr("y", yy - 4.4).attr("width", 25.6).attr("height", 8.8)
            .attr("fill", e.f).attr("stroke", k === 1 ? "none" : "#000").attr("stroke-width", .8);
        var t = svg.append("text").attr("x", 265).attr("y", yy + 4.6).style("font-size", "13px");
        richText(t, e.parts, 13);
    });
}

function drawTemp(i, colP, colT, P, hi, med, lo) {
    var xr = plotX[i], yr = tempY[i];
    var x = d3.scaleLog().domain([1000, 2.03]).range(xr);
    var y = d3.scaleLinear().domain([3, 5]).range([yr[1], yr[0]]);
    var g = makePanel("temp" + i, xr, yr);
    var poly = d3.line().x(function (d) { return x(d[0]); }).y(function (d) { return y(d[1]); });
    var regions = [
        {pts: phasePlasma, f: "url(#hatch-x" + i + ")"},
        {pts: phaseSuperionic, f: "url(#hatch-s" + i + ")"},
        {pts: phaseIces, f: "url(#hatch-r" + i + ")"},
        {pts: phaseMolecular, f: "url(#hatch-g" + i + ")"},
        {pts: phaseIonic, f: "#808080"}
    ];
    regions.forEach(function (r) {
        g.append("path").attr("d", poly(r.pts) + "Z").attr("fill", r.f).attr("stroke", "#000").attr("stroke-width", .9);
    });
    var marks = [];
    colP.forEach(function (p, k) {
        colT[k].forEach(function (t) { marks.push([p, t]); });
    });
    var smooth = d3.line().curve(d3.curveMonotoneX).x(function (d) { return x(d[0]); }).y(function (d) { return y(d[1]); });
    var area = d3.area().curve(d3.curveMonotoneX).x(function (d) { return x(d[0]); })
        .y0(function (d) { return y(d[2]); }).y1(function (d) { return y(d[1]); });
    g.append("path").attr("d", area(d3.zip(P, hi, lo))).attr("fill", COL_T).attr("fill-opacity", .5);
    g.append("g").selectAll("rect").data(marks).enter().append("rect")
        .attr("x", function (d) { return x(d[0]) - 2; })
        .attr("y", function (d) { return y(d[1]) - 2; })
        .attr("width", 4).attr("height", 4).attr("fill", COL_T).attr("fill-opacity", .3);
    g.append("path").attr("d", smooth(d3.zip(P, hi))).attr("fill", "none").attr("stroke", COL_T).attr("stroke-width", 1.2);
    g.append("path").attr("d", smooth(d3.zip(P, lo))).attr("fill", "none").attr("stroke", COL_T).attr("stroke-width", 1.2);
    g.append("path").attr("d", smooth(d3.zip(P, med))).attr("fill", "none").attr("stroke", COL_T).attr("stroke-width", 3.2);
    pressureAxis(x, yr[1], false);
    var ay = svg.append("g").attr("transform", "translate(" + xr[0] + ",0)");
    ay.call(d3.axisLeft(y).tickValues(tempTicks).tickSize(4.5).tickPadding(4).tickFormat(d3.format(".2f")));
    styleAxis(ay);
    drawSpine(xr, yr);
    yLabel(labelX[i][2], tempLabelMid[i], [
        {t: "Logarithmic temperature log"}, {t: "10", sub: true}, {t: " ("}, {t: "T", i: true},
        {t: ") [log"}, {t: "10", sub: true}, {t: "(K)]"}
    ]);
}

function drawNsq(i, colP, colV, P, med, bands, extras) {
    var xr = plotX[i], yr = nsqY[i];
    var x = d3.scaleLog().domain([1000, 2.03]).range(xr);
    var y = d3.scaleSymlog().constant(1e-9).domain(nsqDomain[i]).range([yr[1], yr[0]]);
    var g = makePanel("nsq" + i, xr, yr);
    g.append("rect").attr("x", xr[0]).attr("width", xr[1] - xr[0]).attr("y", yr[0]).attr("height", y(0) - yr[0]).attr("fill", "#95cf95");
    g.append("rect").attr("x", xr[0]).attr("width", xr[1] - xr[0]).attr("y", y(0)).attr("height", yr[1] - y(0)).attr("fill", "#ffbf86");
    var outline = d3.line().curve(d3.curveCatmullRomClosed.alpha(1)).x(function (d) { return x(d[0]); }).y(function (d) { return y(d[1]); });
    var smooth = d3.line().curve(d3.curveMonotoneX).x(function (d) { return x(d[0]); }).y(function (d) { return y(d[1]); });
    bands.forEach(function (b) {
        g.append("path").attr("d", outline(d3.zip(b[0], b[1]))).attr("fill", "#000").attr("fill-opacity", .35)
            .attr("stroke", "#000").attr("stroke-width", 1.2);
    });
    g.append("line").attr("x1", xr[0]).attr("x2", xr[1]).attr("y1", y(0)).attr("y2", y(0))
        .attr("stroke", "#000").attr("stroke-width", 1.5).attr("stroke-dasharray", "5,3");
    var marks = [];
    colP.forEach(function (p, k) {
        colV[k].forEach(function (v) { marks.push([p, v]); });
    });
    g.append("g").selectAll("rect").data(marks).enter().append("rect")
        .attr("x", function (d) { return x(d[0]) - 2; })
        .attr("y", function (d) { return y(d[1]) - 2; })
        .attr("width", 4).attr("height", 4).attr("fill", "#000").attr("fill-opacity", .4);
    extras.forEach(function (e) {
        g.append("path").attr("d", smooth(d3.zip(e[0], e[1]))).attr("fill", "none").attr("stroke", "#000").attr("stroke-width", 3);
    });
    g.append("path").attr("d", smooth(d3.zip(P, med))).attr("fill", "none").attr("stroke", "#000").attr("stroke-width", 3.6);
    pressureAxis(x, yr[1], true);
    var ay = svg.append("g").attr("transform", "translate(" + xr[0] + ",0)");
    ay.call(d3.axisLeft(y).tickValues(nsqTicks).tickSize(4.5).tickPadding(4).tickFormat(""));
    styleAxis(ay);
    ay.selectAll(".tick text").each(function (d) {
        var t = d3.select(this);
        if (d === 0) {
            t.text("0");
        } else {
            var e = Math.round(Math.log10(Math.abs(d)));
            richText(t, [{t: (d < 0 ? "\u2212" : "") + "10"}, {t: "\u2212" + Math.abs(e), sup: true}], FS);
        }
    });
    drawSpine(xr, yr);
    yLabel(labelX[i][3], 1058, [{t: "N", i: true}, {t: "2", sup: true}]);
    xLabel((xr[0] + xr[1]) / 2, 1163, [{t: "Pressure "}, {t: "P", i: true}, {t: " [GPa]"}]);
}

function nsqLegend() {
    legendBox(95.7, 1000, 86.6, 42.3);
    svg.append("rect").attr("x", 100).attr("y", 1006.3).attr("width", 26).attr("height", 8.8).attr("fill", "#ffbf86");
    svg.append("rect").attr("x", 100).attr("y", 1026).attr("width", 26).attr("height", 8.8).attr("fill", "#95cf95");
    var t1 = svg.append("text").attr("x", 136.7).attr("y", 1015).style("font-size", "13px");
    richText(t1, [{t: "N", i: true}, {t: "2", sup: true}, {t: " < 0"}], 13);
    var t2 = svg.append("text").attr("x", 136.7).attr("y", 1035).style("font-size", "13px");
    richText(t2, [{t: "N", i: true}, {t: "2", sup: true}, {t: " \u2265 0"}], 13);
}

[0, 1, 2].forEach(hatchDefs);

drawRho(0, rhoRadiusA, rhoValueA);
drawRho(1, rhoRadiusB, rhoValueB);
drawRho(2, rhoRadiusC, rhoValueC);

drawCompA();
drawCompB();
drawCompC();

drawTemp(0, tempColPA, tempColTA, tempPA, tempHiA, tempMedA, tempLoA);
drawTemp(1, tempColPB, tempColTB, tempPB, tempHiB, tempMedB, tempLoB);
drawTemp(2, tempColPC, tempColTC, tempPC, tempHiC, tempMedC, tempLoC);
tempLegend();

drawNsq(0, nsqColPA, nsqColVA, nsqPA, nsqMedA, [[nsqBandPA, nsqBandVA]], [[nsqExtraPA, nsqExtraVA]]);
drawNsq(1, nsqColPB, nsqColVB, nsqPB, nsqMedB, [[nsqBand1PB, nsqBand1VB], [nsqBand2PB, nsqBand2VB]], [[nsqExtraPB, nsqExtraVB]]);
drawNsq(2, nsqColPC, nsqColVC, nsqPC, nsqMedC, [[nsqBand1PC, nsqBand1VC], [nsqBand2PC, nsqBand2VC]], [[nsqExtraPC, nsqExtraVC], [nsqExtra2PC, nsqExtra2VC]]);
nsqLegend();

svg.selectAll(".caption").data(captions).enter().append("text")
    .attr("class", "caption")
    .attr("x", function (d, i) { return captionMid[i]; })
    .attr("y", 1205)
    .attr("text-anchor", "middle")
    .style("font-family", "'Liberation Serif', serif")
    .style("font-size", "20.6px")
    .text(function (d) { return d; });
</script>
</body>
</html>
